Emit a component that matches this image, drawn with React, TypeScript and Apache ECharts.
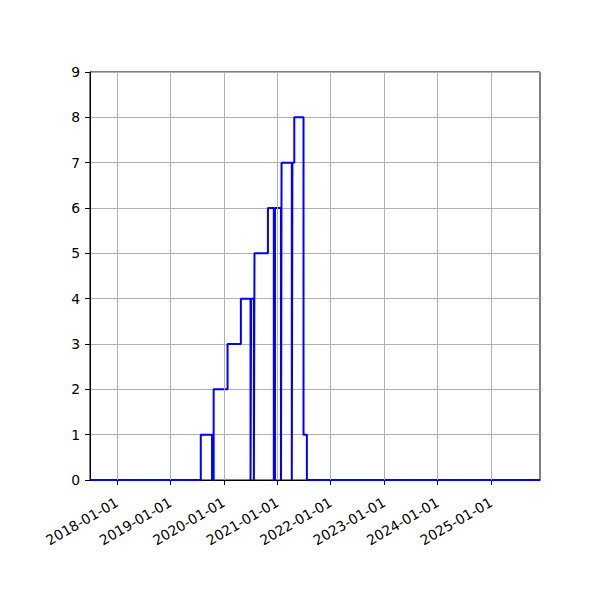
import React, { useEffect, useRef } from "react";
import * as echarts from "echarts";

// Year tick labels on the x axis
const yearTicks = [
  "2018-01-01", "2019-01-01", "2020-01-01", "2021-01-01",
  "2022-01-01", "2023-01-01", "2024-01-01", "2025-01-01",
];

// Step change dates and the value that holds from each date on
const stepDates = [
  "2017-07-01", "2019-07-28", "2019-10-13", "2019-10-24", "2020-01-27",
  "2020-04-27", "2020-07-02", "2020-07-06", "2020-07-25", "2020-07-29",
  "2020-10-29", "2020-12-08", "2020-12-16", "2021-01-26", "2021-01-30",
  "2021-04-10", "2021-04-14", "2021-04-27", "2021-06-29", "2021-07-22",
  "2025-12-01",
];
const stepValues = [
  0, 1, 0, 2, 3,
  4, 0, 4, 0, 5,
  6, 0, 6, 0, 7,
  0, 7, 8, 1, 0,
  0,
];

const xMinDate = "2017-07-01";
const xMaxDate = "2025-12-01";
const yMin = 0;
const yMax = 9;
const yStep = 1;

const toTs = (s: string) => Date.parse(s + "T00:00:00Z");
const fmt = (v: number) => new Date(v).toISOString().slice(0, 10);

export default function App() {
  const ref = useRef<HTMLDivElement>(null);
  useEffect(() => {
    if (!ref.current) return;
    const chart = echarts.init(ref.current, undefined, { renderer: "svg" });
    const yearTs = yearTicks.map(toTs);
    const font = "DejaVu Sans";
    chart.setOption({
      animation: false,
      backgroundColor: "#ffffff",
      grid: {
        left: 90,
        top: 72,
        width: 450,
        height: 408,
        show: true,
        borderColor: "#000000",
        borderWidth: 1,
        backgroundColor: "transparent",
      },
      xAxis: {
        type: "value",
        min: toTs(xMinDate),
        max: toTs(xMaxDate),
        axisLine: { show: true, onZero: false, lineStyle: { color: "#000", width: 1 } },
        axisTick: {
          show: true,
          length: 5,
          customValues: yearTs,
          lineStyle: { color: "#000", width: 1 },
        },
        axisLabel: {
          customValues: yearTs,
          rotate: 30,
          margin: 21,
          color: "#000",
          fontFamily: font,
          fontSize: 13.9,
          formatter: (v: number) => fmt(v),
        },
        splitLine: { show: false },
      },
      yAxis: {
        type: "value",
        min: yMin,
        max: yMax,
        interval: yStep,
        axisLine: { show: true, lineStyle: { color: "#000", width: 1 } },
        axisTick: { show: true, length: 5, lineStyle: { color: "#000", width: 1 } },
        axisLabel: {
          margin: 10,
          color: "#000",
          fontFamily: font,
          fontSize: 13.9,
        },
        splitLine: { show: true, lineStyle: { color: "#b0b0b0", width: 1 } },
      },
      series: [
        {
          type: "line",
          z: 1,
          silent: true,
          symbol: "none",
          data: [[yearTs[0], 0]],
          lineStyle: { opacity: 0 },
          markLine: {
            silent: true,
            symbol: "none",
            label: { show: false },
            lineStyle: { color: "#b0b0b0", width: 1, type: "solid" },
            data: yearTs.map((t) => ({ xAxis: t })),
          },
        },
        {
          type: "line",
          z: 3,
          step: "end",
          symbol: "none",
          clip: false,
          data: stepDates.map((d, i) => [toTs(d), stepValues[i]]),
          lineStyle: { color: "#0000ff", width: 2 },
        },
      ],
    });
    return () => chart.dispose();
  }, []);
  return (
    <div
      ref={ref}
      style={{ position: "absolute", left: 0, top: 0, width: 600, height: 600 }}
    />
  );
}
